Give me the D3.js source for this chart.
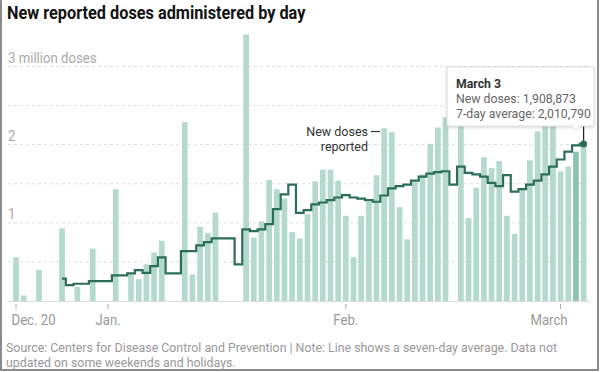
<!DOCTYPE html>
<html>
<head>
<meta charset="utf-8">
<style>
  body { margin: 0; background: #fff; }
  svg { display: block; font-family: Roboto, "Liberation Sans", sans-serif; }
</style>
</head>
<body>
<script src="https://cdnjs.cloudflare.com/ajax/libs/d3/7.8.5/d3.min.js"></script>
<script>
  // daily doses, millions, starting Dec. 20, 2020 (0 = no data reported)
  const startDate = '2020-12-20'
  const doses = [
    0.56, 0.07, 0, 0.40, 0, 0, 0.93, 0, 0.18, 0, 0.67, 0, 0, 1.43, 0, 0.34,
    0.28, 0.47, 0.62, 0.77, 0, 0, 2.29, 0.34, 0.95, 0.87, 1.13, 0, 0, 0,
    3.41, 0.81, 1.02, 1.55, 1.43, 1.31, 0.88, 0.80, 1.11, 1.53, 1.68, 1.68,
    1.54, 1.09, 0.56, 1.09, 1.27, 1.61, 2.21, 2.16, 1.20, 0.79, 1.52, 1.62,
    2.01, 2.22, 2.35, 0, 2.40, 1.06, 1.45, 1.84, 1.70, 1.79, 1.09, 0.86,
    1.42, 1.80, 2.17, 2.30, 2.30, 1.66, 1.72, 1.91, 2.01
  ]

  // seven-day average, millions, starting Dec. 26
  const avgStart = '2020-12-26'
  const avg = [
    0.285, 0.204, 0.221, 0.221, 0.255, 0.255, 0.255, 0.328, 0.328, 0.354,
    0.396, 0.361, 0.447, 0.558, 0.354, 0.354, 0.639, 0.639, 0.711, 0.753,
    0.80, 0.80, 0.80, 0.469, 0.916, 0.894, 0.916, 0.983, 1.175, 1.363,
    1.49, 1.128, 1.162, 1.235, 1.26, 1.29, 1.324, 1.354, 1.324, 1.31,
    1.29, 1.27, 1.35, 1.44, 1.47, 1.49, 1.54, 1.59, 1.63, 1.65,
    1.66, 1.49, 1.72, 1.64, 1.62, 1.59, 1.51, 1.47, 1.61, 1.40,
    1.43, 1.49, 1.54, 1.62, 1.72, 1.81, 1.91, 1.99, 2.01
  ]

  const tickDates = ['2020-12-20', '2021-01-01', '2021-02-01', '2021-03-01']
  const tickLabels = ['Dec. 20', 'Jan.', 'Feb.', 'March']
  const gridValues = [0.5, 1, 1.5, 2, 2.5, 3]
  const gridLabels = { 1: '1', 2: '2', 3: '3 million doses' }

  const hoverDate = '2021-03-03'
  const tipLines = ['March 3', 'New doses: 1,908,873', '7-day average: 2,010,790']

  const title = 'New reported doses administered by day'
  const source = ['Source: Centers for Disease Control and Prevention | Note: Line shows a seven-day average. Data not',
    'updated on some weekends and holidays.']

  const width = 600
  const height = 372
  const parse = d3.timeParse('%Y-%m-%d')
  const day = 864e5

  const bars = doses.map((v, i) => ({ date: new Date(parse(startDate).getTime() + i * day), v }))
  const line = avg.map((v, i) => ({ date: new Date(parse(avgStart).getTime() + i * day), v }))

  // squeeze Roboto a little so it sits like the narrower original face
  function condense(sel, k = 0.94) {
    sel.each(function () {
      const w = this.getComputedTextLength()
      d3.select(this).attr('textLength', w * k).attr('lengthAdjust', 'spacingAndGlyphs')
    })
  }

  const svg = d3.select('body').append('svg')
    .attr('width', width)
    .attr('height', height)

  // frame
  svg.append('rect')
    .attr('x', 1).attr('y', -5)
    .attr('width', 597).attr('height', 375)
    .attr('fill', 'none').attr('stroke', '#666').attr('stroke-width', 1.5)

  svg.append('text')
    .attr('x', 7).attr('y', 19)
    .attr('font-size', 17.5).attr('font-weight', 700)
    .attr('fill', '#121212')
    .text(title)
    .call(condense, 0.93)

  const x = d3.scaleTime()
    .domain([parse('2020-12-20'), parse('2021-03-01')])
    .range([16, 560.6])

  const y = d3.scaleLinear()
    .domain([0, 3])
    .range([301, 66.5])

  const left = 8, right = 590
  const barW = 5.7

  // gridlines
  svg.append('g').selectAll('line')
    .data(gridValues)
    .join('line')
    .attr('x1', left).attr('x2', right)
    .attr('y1', d => y(d)).attr('y2', d => y(d))
    .attr('stroke', '#ddd').attr('stroke-dasharray', '3,3')

  svg.append('g').selectAll('text')
    .data(gridValues.filter(d => gridLabels[d]))
    .join('text')
    .attr('x', left).attr('y', d => y(d) - 4)
    .attr('font-size', 14).attr('fill', '#aaa')
    .text(d => gridLabels[d])
    .call(condense)

  // bars
  svg.append('g').selectAll('rect')
    .data(bars.filter(d => d.v > 0))
    .join('rect')
    .attr('x', d => x(d.date) - barW / 2)
    .attr('width', barW)
    .attr('y', d => y(d.v))
    .attr('height', d => y(0) - y(d.v))
    .attr('fill', d => +d.date === +parse(hoverDate) ? '#8fc3b1' : '#b4d9cd')

  // baseline and ticks
  svg.append('line')
    .attr('x1', left).attr('x2', right)
    .attr('y1', y(0) + 0.5).attr('y2', y(0) + 0.5)
    .attr('stroke', '#ddd')

  const ticks = svg.append('g').selectAll('g')
    .data(tickDates)
    .join('g')
    .attr('transform', d => `translate(${x(parse(d))},0)`)

  ticks.append('line')
    .attr('y1', y(0) + 3).attr('y2', y(0) + 8)
    .attr('stroke', '#aaa')

  ticks.append('text')
    .attr('y', y(0) + 24)
    .attr('font-size', 14).attr('fill', '#999')
    .attr('text-anchor', (d, i) => i === 0 ? 'start' : i === tickDates.length - 1 ? 'end' : 'middle')
    .attr('dx', (d, i) => i === 0 ? -4.5 : i === tickDates.length - 1 ? 7 : 0)
    .text((d, i) => tickLabels[i])
    .call(condense)

  // seven-day average line
  const lineGen = d3.line()
    .x(d => x(d.date))
    .y(d => y(d.v))
    .curve(d3.curveStep)

  svg.append('path')
    .datum(line)
    .attr('d', lineGen)
    .attr('fill', 'none')
    .attr('stroke', '#2d6e57')
    .attr('stroke-width', 2.2)

  // annotation
  const ann = svg.append('g').attr('font-size', 13).attr('fill', '#333').attr('text-anchor', 'end')
  ann.append('text').attr('x', 368).attr('y', 135.5).text('New doses').call(condense, 0.96)
  ann.append('text').attr('x', 368).attr('y', 151).text('reported').call(condense, 0.96)
  svg.append('line')
    .attr('x1', 371).attr('x2', 380)
    .attr('y1', 131.5).attr('y2', 131.5)
    .attr('stroke', '#333').attr('stroke-width', 1.2)

  // tooltip
  const last = line[line.length - 1]
  const px = x(last.date), py = y(last.v)
  const tip = { x: 447, y: 67, w: 147, h: 59 }

  const defs = svg.append('defs')
  const f = defs.append('filter').attr('id', 'sh').attr('x', '-10%').attr('y', '-10%').attr('width', '120%').attr('height', '130%')
  f.append('feDropShadow').attr('dx', 0).attr('dy', 1).attr('stdDeviation', 1.5).attr('flood-color', '#000').attr('flood-opacity', 0.18)

  svg.append('line')
    .attr('x1', px).attr('x2', px)
    .attr('y1', tip.y + tip.h).attr('y2', py)
    .attr('stroke', '#222').attr('stroke-width', 1.2)

  svg.append('rect')
    .attr('x', tip.x).attr('y', tip.y)
    .attr('width', tip.w).attr('height', tip.h)
    .attr('fill', '#fff').attr('stroke', '#ddd')
    .attr('filter', 'url(#sh)')

  const cx = x(parse(hoverDate))
  svg.append('path')
    .attr('d', `M${cx - 5},${tip.y + tip.h - 0.5}L${cx},${tip.y + tip.h + 4.5}L${cx + 5},${tip.y + tip.h - 0.5}`)
    .attr('fill', '#fff').attr('stroke', '#ddd')

  svg.append('circle')
    .attr('cx', px).attr('cy', py).attr('r', 3.5)
    .attr('fill', '#2d6e57')

  svg.append('g').selectAll('text')
    .data(tipLines)
    .join('text')
    .attr('x', tip.x + 9)
    .attr('y', (d, i) => tip.y + 21 + i * 15)
    .attr('font-size', 13)
    .attr('font-weight', (d, i) => i === 0 ? 700 : 400)
    .attr('fill', (d, i) => i === 0 ? '#333' : '#666')
    .text(d => d)
    .call(condense, 0.945)

  // source note
  svg.append('g').selectAll('text')
    .data(source)
    .join('text')
    .attr('x', 6)
    .attr('y', (d, i) => 352 + i * 15)
    .attr('font-size', 13).attr('fill', '#999')
    .text(d => d)
    .call(condense, 0.95)
</script>
</body>
</html>
